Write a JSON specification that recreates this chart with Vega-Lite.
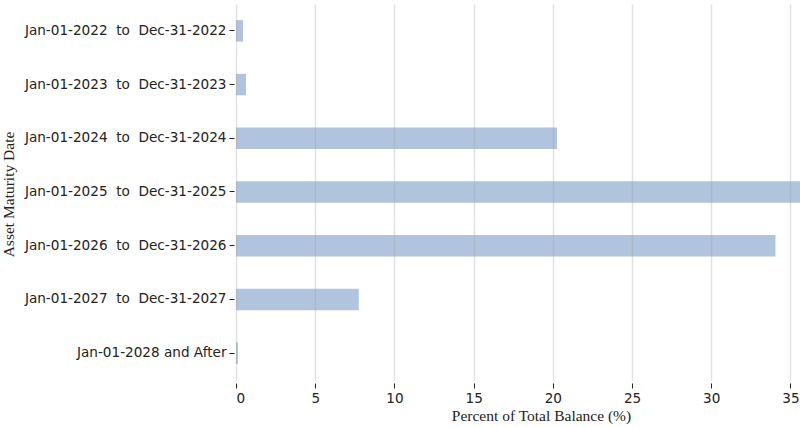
{
  "$schema": "https://vega.github.io/schema/vega-lite/v6.json",
  "autosize": "none",
  "width": 564,
  "height": 376,
  "padding": {"left": 236, "top": 4, "right": 0, "bottom": 47},
  "background": "white",
  "config": {
    "view": {"stroke": null},
    "axis": {"domain": false}
  },
  "data": {
    "values": [
      {"period": "Jan-01-2022\u00a0\u00a0to\u00a0\u00a0Dec-31-2022", "pct": 0.44},
      {"period": "Jan-01-2023\u00a0\u00a0to\u00a0\u00a0Dec-31-2023", "pct": 0.63},
      {"period": "Jan-01-2024\u00a0\u00a0to\u00a0\u00a0Dec-31-2024", "pct": 20.26},
      {"period": "Jan-01-2025\u00a0\u00a0to\u00a0\u00a0Dec-31-2025", "pct": 36.0},
      {"period": "Jan-01-2026\u00a0\u00a0to\u00a0\u00a0Dec-31-2026", "pct": 34.05},
      {"period": "Jan-01-2027\u00a0\u00a0to\u00a0\u00a0Dec-31-2027", "pct": 7.75},
      {"period": "Jan-01-2028 and After", "pct": 0.12}
    ]
  },
  "mark": {"type": "bar", "color": "#b0c4de", "clip": true},
  "encoding": {
    "y": {
      "field": "period",
      "type": "nominal",
      "sort": null,
      "scale": {"paddingInner": 0.6, "paddingOuter": 0.3},
      "axis": {
        "title": "Asset Maturity Date",
        "titleFont": "Liberation Serif",
        "titleFontSize": 15.5,
        "titleFontWeight": "normal",
        "titleColor": "#222",
        "titleAngle": -90,
        "titleX": -226,
        "titleY": 190,
        "titleAlign": "center",
        "titleBaseline": "middle",
        "labelFont": "DejaVu Sans",
        "labelFontSize": 13.6,
        "labelColor": "#222",
        "labelPadding": 3,
        "labelLimit": 400,
        "tickSize": 5,
        "tickColor": "#222",
        "offset": 2,
        "grid": false
      }
    },
    "x": {
      "field": "pct",
      "type": "quantitative",
      "scale": {"domain": [0, 35.6], "nice": false, "zero": true},
      "axis": {
        "title": "Percent of Total Balance (%)",
        "titleFont": "Liberation Serif",
        "titleFontSize": 15.5,
        "titleFontWeight": "normal",
        "titleColor": "#222",
        "titlePadding": 4,
        "titleX": 305,
        "titleAlign": "center",
        "labelFont": "DejaVu Sans",
        "labelFontSize": 13.6,
        "labelColor": "#222",
        "labelPadding": 3,
        "values": [0, 5, 10, 15, 20, 25, 30, 35],
        "tickSize": 5,
        "tickColor": "#222",
        "offset": 3,
        "grid": true,
        "gridColor": "#a0a0a0",
        "gridOpacity": 0.3,
        "gridWidth": 1.5,
        "zindex": 1
      }
    }
  }
}
